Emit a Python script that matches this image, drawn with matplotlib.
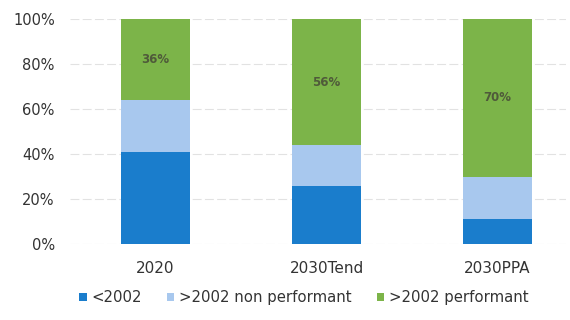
import matplotlib.pyplot as plt
import numpy as np

categories = ['2020', '2030Tend', '2030PPA']
before_2002 = [0.41, 0.26, 0.11]
after_2002_non_perf = [0.23, 0.18, 0.19]
after_2002_perf = [0.36, 0.56, 0.70]
series_names = ['<2002', '>2002 non performant', '>2002 performant']
colors = ['#1a7dcc', '#a8c8ee', '#7cb449']

fig = plt.figure(figsize=(5.7, 3.2), dpi=100)
ax = fig.add_axes([0.123, 0.2375, 0.87, 0.7025])

x = np.arange(len(categories))
width = 0.4
bottom = np.zeros(len(categories))
bars = []
for vals, name, col in zip([before_2002, after_2002_non_perf, after_2002_perf], series_names, colors):
    b = ax.bar(x, vals, width, bottom=bottom, color=col, label=name, zorder=2)
    bars.append(b)
    bottom += np.array(vals)

# percentage labels inside the green segment
for xi, v, base in zip(x, after_2002_perf, np.array(before_2002) + np.array(after_2002_non_perf)):
    ax.text(xi, base + v / 2, f'{round(v * 100)}%', ha='center', va='center',
            fontsize=8.5, color='#4f5a3a', fontweight='bold')

ax.set_xlim(-0.5, 2.4)
ax.set_ylim(0, 1)
ticks = np.arange(0, 1.01, 0.2)
ax.set_yticks(ticks)
ax.set_yticklabels([f'{int(round(t * 100))}%' for t in ticks], fontsize=10.5, color='#333333')
ax.set_xticks(x)
ax.set_xticklabels(categories, fontsize=11, color='#333333')
ax.tick_params(axis='y', length=0, pad=11)
ax.tick_params(axis='x', length=0, pad=12)
ax.yaxis.grid(True, color='#e2e2e2', linestyle=(0, (8, 3)), linewidth=0.8, zorder=0)
for s in ax.spines.values():
    s.set_visible(False)

fig.legend(handles=bars, labels=series_names, loc='center', bbox_to_anchor=(0.533, 0.07),
           ncol=3, frameon=False, fontsize=10.7, handlelength=0.5, handleheight=0.5,
           handletextpad=0.3, columnspacing=1.7, labelcolor='#333333')

fig.savefig('out.png', dpi=100)
